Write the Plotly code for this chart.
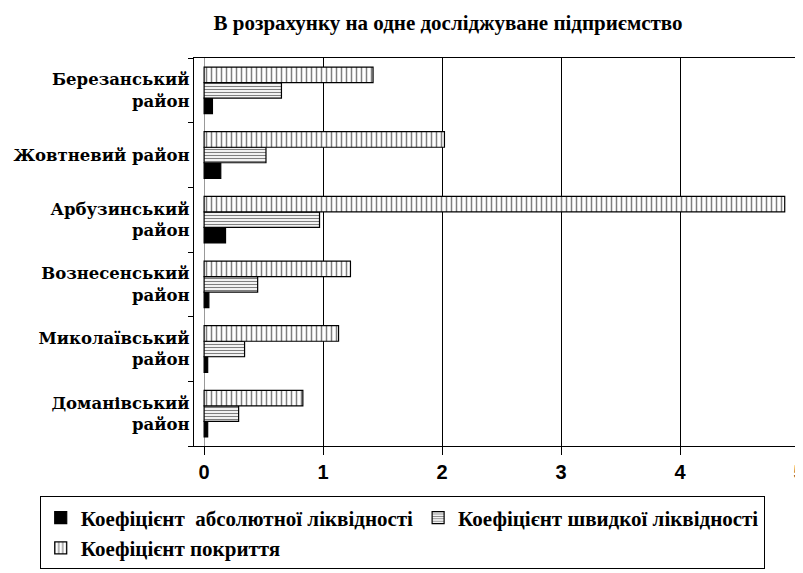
import plotly.graph_objects as go

# Categories listed bottom-to-top (plotly categorical axis order)
districts = [
    "Доманівський<br>район",
    "Миколаївський<br>район",
    "Вознесенський<br>район",
    "Арбузинський<br>район",
    "Жовтневий район",
    "Березанський<br>район",
]
absolute_liquidity = [0.03, 0.03, 0.04, 0.18, 0.14, 0.07]
quick_liquidity = [0.29, 0.34, 0.45, 0.97, 0.52, 0.65]
coverage = [0.83, 1.13, 1.23, 4.88, 2.02, 1.42]

series_names = [
    "Коефіцієнт  абсолютної ліквідності",
    "Коефіцієнт швидкої ліквідності",
    "Коефіцієнт покриття",
]
x_ticks = [0, 1, 2, 3, 4, 5]

title_text = "В розрахунку на одне досліджуване підприємство"

fig = go.Figure()
fig.add_trace(go.Bar(
    y=districts, x=absolute_liquidity, orientation="h", name=series_names[0],
    marker=dict(color="black", line=dict(color="black", width=1.2)),
))
fig.add_trace(go.Bar(
    y=districts, x=quick_liquidity, orientation="h", name=series_names[1],
    marker=dict(color="white", line=dict(color="black", width=1.2),
                pattern=dict(shape="-", fgcolor="black", bgcolor="white",
                             size=3, solidity=0.4)),
))
fig.add_trace(go.Bar(
    y=districts, x=coverage, orientation="h", name=series_names[2],
    marker=dict(color="white", line=dict(color="black", width=1.2),
                pattern=dict(shape="|", fgcolor="black", bgcolor="white",
                             size=5, solidity=0.3)),
))

fig.update_layout(
    width=803, height=573,
    paper_bgcolor="white", plot_bgcolor="white",
    font=dict(family="Liberation Serif", color="black"),
    margin=dict(l=186, r=12, t=50, b=108),
    barmode="group", bargap=0.28, bargroupgap=0,
    title=dict(text=title_text, x=0.548, xanchor="center", y=0.975, yanchor="middle",
               font=dict(family="Liberation Serif", size=21, color="black", weight="bold")),
    showlegend=True,
    legend=dict(
        orientation="h",
        x=-0.255, xanchor="left", y=-0.13, yanchor="top",
        font=dict(family="Liberation Serif", size=21, color="black", weight="bold"),
        bordercolor="black", borderwidth=1, bgcolor="white",
        traceorder="normal", itemwidth=30, tracegroupgap=0,
    ),
    xaxis=dict(
        range=[-0.085, 5.0], tickvals=x_ticks, automargin=False,
        ticklabeloverflow="allow",
        showgrid=True, gridcolor="black", gridwidth=1,
        zeroline=True, zerolinecolor="#999999", zerolinewidth=1,
        showline=True, linecolor="black", linewidth=1.2, mirror=True,
        ticks="outside", ticklen=8, tickcolor="black",
        tickfont=dict(family="Liberation Sans", size=20, color="black", weight="bold"),
    ),
    yaxis=dict(
        automargin=False,
        showline=True, linecolor="black", linewidth=1.2,
        ticks="outside", ticklen=5, tickcolor="black", tickson="boundaries",
        showgrid=False,
        tickfont=dict(family="DejaVu Serif", size=16.5, color="black", weight="bold"),
    ),
)

fig.write_html("out.html")
